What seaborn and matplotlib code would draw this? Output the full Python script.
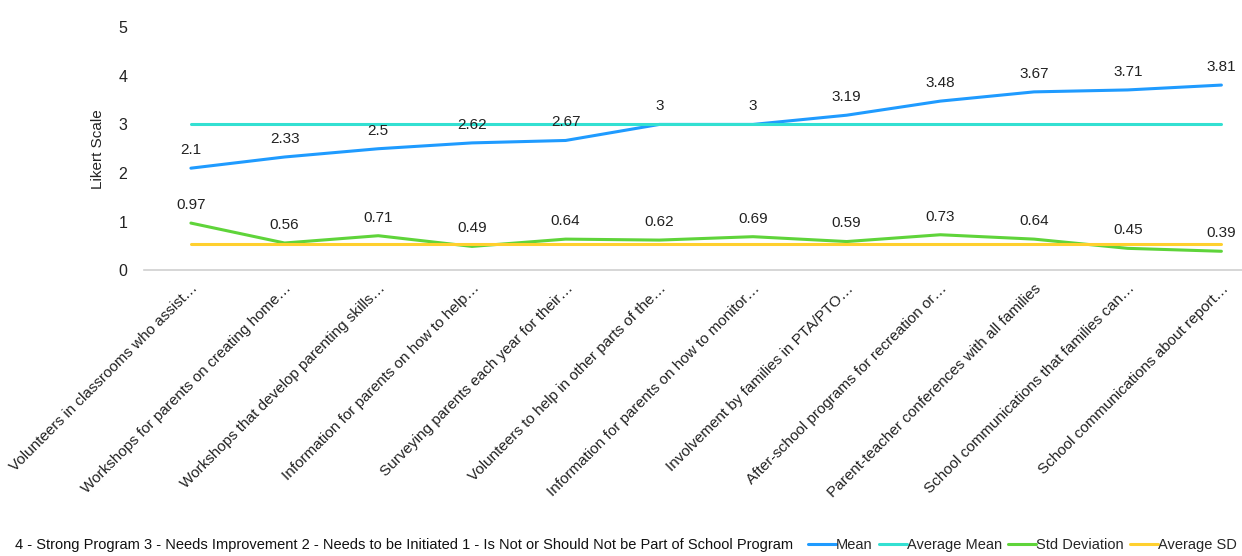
import matplotlib
matplotlib.use("Agg")
import matplotlib.pyplot as plt
import seaborn as sns
import pandas as pd

categories = [
    "Volunteers in classrooms who assist…",
    "Workshops for parents on creating home…",
    "Workshops that develop parenting skills…",
    "Information for parents on how to help…",
    "Surveying parents each year for their…",
    "Volunteers to help in other parts of the…",
    "Information for parents on how to monitor…",
    "Involvement by families in PTA/PTO…",
    "After-school programs for recreation or…",
    "Parent-teacher conferences with all families",
    "School communications that families can…",
    "School communications about report…",
]
mean_vals = [2.1, 2.33, 2.5, 2.62, 2.67, 3, 3, 3.19, 3.48, 3.67, 3.71, 3.81]
std_vals = [0.97, 0.56, 0.71, 0.49, 0.64, 0.62, 0.69, 0.59, 0.73, 0.64, 0.45, 0.39]
average_mean = 3.0
average_sd = 0.54
series_names = ["Mean", "Average Mean", "Std Deviation", "Average SD"]
colors = ["#1f9bff", "#33e0d2", "#5fd43a", "#ffd02e"]
footnote = ("4 - Strong Program 3 - Needs Improvement 2 - Needs to be Initiated "
            "1 - Is Not or Should Not be Part of School Program")

sns.set_theme(style="white")
plt.rcParams["font.family"] = ["Liberation Sans", "DejaVu Sans"]

rows = []
for i, c in enumerate(categories):
    rows.append(dict(x=i, value=mean_vals[i], series="Mean"))
    rows.append(dict(x=i, value=average_mean, series="Average Mean"))
    rows.append(dict(x=i, value=std_vals[i], series="Std Deviation"))
    rows.append(dict(x=i, value=average_sd, series="Average SD"))
df = pd.DataFrame(rows)

fig = plt.figure(figsize=(12.42, 5.56), dpi=100)
ax = fig.add_axes([0.116, 0.514, 0.884, 0.437])

sns.lineplot(data=df, x="x", y="value", hue="series", hue_order=series_names,
             palette=dict(zip(series_names, colors)), linewidth=2.2,
             legend=False, ax=ax)

for i in range(len(categories)):
    ax.annotate(f"{mean_vals[i]:g}", (i, mean_vals[i]), xytext=(0, 8),
                textcoords="offset points", ha="center", va="bottom",
                fontsize=11, color="#222222", annotation_clip=False)
    ax.annotate(f"{std_vals[i]:g}", (i, std_vals[i]), xytext=(0, 8),
                textcoords="offset points", ha="center", va="bottom",
                fontsize=11, color="#222222", annotation_clip=False)

ax.set_xlim(-0.5, 11.22)
ax.set_ylim(0, 5)
ax.set_yticks(range(0, 6))
ax.set_xticks(range(len(categories)))
ax.set_xticklabels(categories, rotation=45, ha="right", rotation_mode="anchor",
                   fontsize=11, color="#222222")
ax.tick_params(axis="y", labelsize=11.5, colors="#222222", length=0, pad=12)
ax.tick_params(axis="x", length=0, pad=8)
ax.set_xlabel("")
ax.set_ylabel("Likert Scale", fontsize=11, color="#222222", labelpad=10)
for side in ["top", "right", "left"]:
    ax.spines[side].set_visible(False)
ax.spines["bottom"].set_color("#d0d0d0")
ax.spines["bottom"].set_linewidth(1.2)
ax.grid(False)

fig.text(0.012, 0.02, footnote, fontsize=10.5, color="#111111", va="center", ha="left")

handles = [plt.Line2D([], [], color=c, linewidth=2.2) for c in colors]
fig.legend(handles, series_names, loc="center right", bbox_to_anchor=(1.003, 0.02),
           ncol=4, frameon=False, fontsize=10.5, handlelength=1.9,
           handletextpad=0.0, columnspacing=0.45, borderpad=0.1)

fig.savefig("out.png", dpi=100)
